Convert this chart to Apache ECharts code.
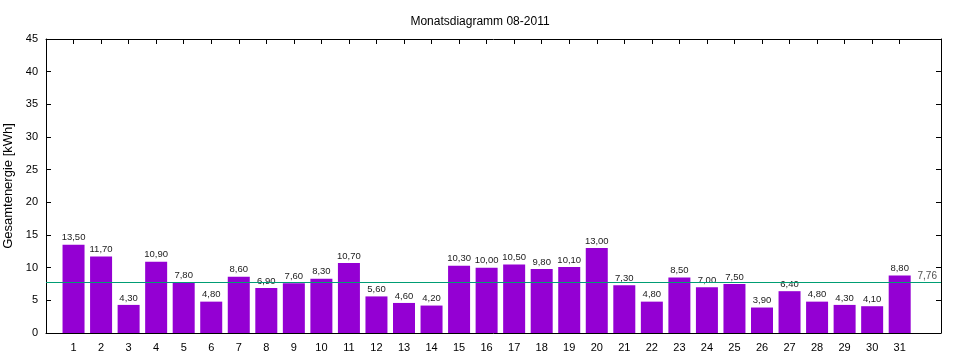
<!DOCTYPE html>
<html>
<head>
<meta charset="utf-8">
<script src="https://cdn.jsdelivr.net/npm/echarts@6/dist/echarts.min.js"></script>
<style>html,body{margin:0;padding:0;background:#fff}#c{width:960px;height:360px}</style>
</head>
<body>
<div id="c"></div>
<script>
const days = [1,2,3,4,5,6,7,8,9,10,11,12,13,14,15,16,17,18,19,20,21,22,23,24,25,26,27,28,29,30,31];
const energy = [13.5,11.7,4.3,10.9,7.8,4.8,8.6,6.9,7.6,8.3,10.7,5.6,4.6,4.2,10.3,10.0,10.5,9.8,10.1,13.0,7.3,4.8,8.5,7.0,7.5,3.9,6.4,4.8,4.3,4.1,8.8];
const average = 7.76;
const avgLabelPos = 32;
const yTicks = [0,5,10,15,20,25,30,35,40,45];
const title = 'Monatsdiagramm 08-2011';
const yName = 'Gesamtenergie [kWh]';

const fmt = v => v.toFixed(2).replace('.', ',');
const font = 'Liberation Sans, Arial, sans-serif';
const chart = echarts.init(document.getElementById('c'), null, {renderer: 'canvas'});
const xCommon = {
  type: 'value', min: 0, max: 32.5, interval: 1,
  axisLine: {show: true, onZero: false, lineStyle: {color: '#000', width: 1}},
  splitLine: {show: false},
  axisTick: {show: true, inside: true, length: 5, customValues: days, lineStyle: {color: '#000'}},
};
const yCommon = {
  type: 'value', min: 0, max: 45, interval: 5,
  axisLine: {show: true, onZero: false, lineStyle: {color: '#000', width: 1}},
  splitLine: {show: false},
  axisTick: {show: true, inside: true, length: 5, lineStyle: {color: '#000'}},
};
chart.setOption({
  animation: false,
  backgroundColor: '#fff',
  title: {text: title, left: 'center', top: 11, textStyle: {fontFamily: font, fontSize: 12, fontWeight: 'normal', color: '#000'}},
  grid: {left: 46, right: 19, top: 39, bottom: 27, containLabel: false, outerBoundsMode: 'none'},
  xAxis: [
    Object.assign({}, xCommon, {position: 'bottom',
      axisLabel: {show: true, customValues: days, color: '#000', fontFamily: font, fontSize: 11, margin: 9}}),
    Object.assign({}, xCommon, {position: 'top', axisLabel: {show: false}})
  ],
  yAxis: [
    Object.assign({}, yCommon, {position: 'left', name: yName, nameLocation: 'middle', nameGap: 24,
      nameTextStyle: {fontFamily: font, fontSize: 13, color: '#000'},
      axisLabel: {show: true, color: '#000', fontFamily: font, fontSize: 11, margin: 8,
        customValues: yTicks}}),
    Object.assign({}, yCommon, {position: 'right', axisLabel: {show: false}})
  ],
  series: [
    {
      type: 'bar', xAxisIndex: 0, yAxisIndex: 0,
      data: days.map((d, i) => [d, energy[i]]),
      barWidth: 22,
      itemStyle: {color: '#9400D3'},
      label: {show: true, position: 'top', distance: 2, color: '#222', fontFamily: font, fontSize: 9.5,
        formatter: p => fmt(p.value[1])},
      markLine: {
        silent: true, symbol: 'none', label: {show: false},
        lineStyle: {color: '#009E73', width: 1, type: 'solid'},
        data: [{yAxis: average}]
      },
      z: 2
    },
    {
      type: 'scatter', xAxisIndex: 0, yAxisIndex: 0,
      data: [[avgLabelPos, average]],
      symbolSize: 0,
      label: {show: true, position: 'top', distance: 1, color: '#222', fontFamily: font, fontSize: 10,
        formatter: () => fmt(average)},
      z: 3
    }
  ]
});
</script>
</body>
</html>
